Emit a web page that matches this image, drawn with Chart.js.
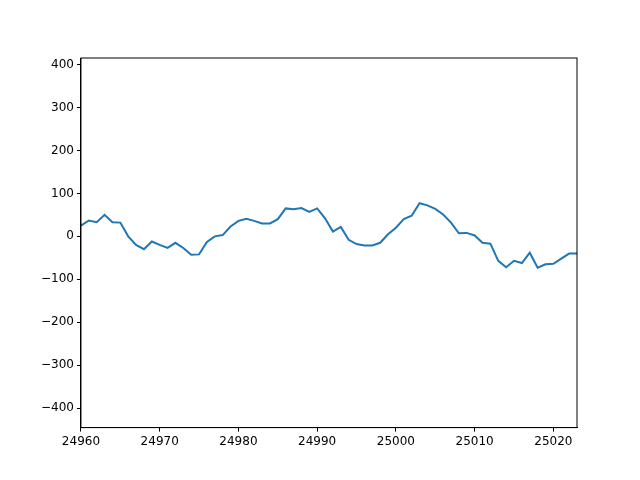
<!DOCTYPE html>
<html><head><script src="https://cdn.jsdelivr.net/npm/chart.js@4"></script>
<style>body{margin:0;background:#fff}#w{width:640px;height:480px}</style></head>
<body><div id="w"><canvas id="c"></canvas></div>
<script>
const xStart = 24960;
const values = [25,37,33,50,33,32,0,-20,-30,-12,-20,-27,-15,-27,-43,-42,-13,0,3,23,36,41,36,30,30,40,65,63,66,57,65,42,11,22,-8,-18,-21,-21,-15,5,20,40,48,77,72,64,51,32,7,8,2,-15,-17,-57,-72,-57,-62,-38,-73,-65,-64,-52,-40,-40];
const xTicks = [24960,24970,24980,24990,25000,25010,25020];
const yTicks = [-400,-300,-200,-100,0,100,200,300,400];
const pts = values.map((v,i)=>({x:xStart+i,y:v}));
const grid = {drawOnChartArea:false,drawTicks:true,tickLength:4,color:'#000'};
new Chart(document.getElementById('c'),{type:'line',
data:{datasets:[{data:pts,borderColor:'#1f77b4',borderWidth:2,pointRadius:0,tension:0}]},
options:{responsive:true,maintainAspectRatio:false,animation:false,
layout:{padding:{left:38,right:63,top:58,bottom:28}},
plugins:{legend:{display:false},tooltip:{enabled:false}},
scales:{x:{type:'linear',min:24960,max:25023,grid:grid,border:{color:'#000'},
afterBuildTicks:a=>{a.ticks=xTicks.map(v=>({value:v}));},
ticks:{color:'#000',font:{family:'DejaVu Sans',size:12},autoSkip:false,maxRotation:0,callback:v=>String(v)}},
y:{min:-445,max:415,grid:grid,border:{color:'#000'},
afterBuildTicks:a=>{a.ticks=yTicks.map(v=>({value:v}));},
ticks:{color:'#000',font:{family:'DejaVu Sans',size:12},callback:v=>v<0?'\u2212'+(-v):String(v)}}}},
plugins:[{id:'box',afterDraw(c){const a=c.chartArea,x=c.ctx;x.save();x.strokeStyle='#000';x.lineWidth=1;x.strokeRect(a.left,a.top,a.right-a.left,a.bottom-a.top);x.restore();}}]
});
</script></body></html>
